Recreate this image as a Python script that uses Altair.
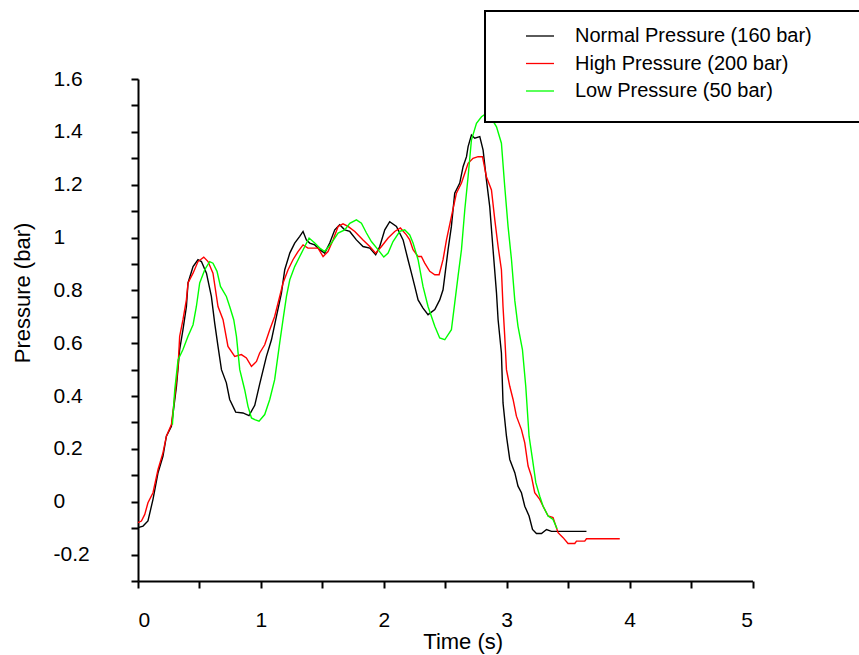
import altair as alt
import pandas as pd

series_names = ["Normal Pressure (160 bar)", "High Pressure (200 bar)", "Low Pressure (50 bar)"]
series_colors = ["#000000", "#ff0000", "#00ff00"]

normal_t = [0.000, 0.041, 0.081, 0.122, 0.163, 0.203, 0.231, 0.272, 0.313, 0.339,
            0.366, 0.394, 0.407, 0.448, 0.488, 0.516, 0.557, 0.597, 0.624, 0.651,
            0.679, 0.719, 0.746, 0.795, 0.854, 0.903, 0.950, 0.990, 1.045, 1.086,
            1.126, 1.167, 1.194, 1.235, 1.275, 1.316, 1.343, 1.370, 1.397, 1.438,
            1.479, 1.519, 1.560, 1.601, 1.641, 1.682, 1.723, 1.777, 1.831, 1.886,
            1.934, 1.967, 2.008, 2.048, 2.103, 2.157, 2.197, 2.225, 2.252, 2.279,
            2.319, 2.360, 2.415, 2.455, 2.482, 2.496, 2.523, 2.550, 2.577, 2.618,
            2.645, 2.673, 2.686, 2.713, 2.740, 2.781, 2.808, 2.835, 2.862, 2.889,
            2.917, 2.930, 2.957, 2.970, 2.998, 3.025, 3.066, 3.092, 3.120, 3.147,
            3.182, 3.210, 3.242, 3.283, 3.324, 3.364, 3.649]
normal_p = [-0.098, -0.092, -0.073, 0.009, 0.110, 0.172, 0.248, 0.286, 0.437, 0.576,
            0.651, 0.739, 0.828, 0.890, 0.916, 0.909, 0.865, 0.777, 0.676, 0.588,
            0.500, 0.450, 0.387, 0.339, 0.336, 0.326, 0.365, 0.445, 0.550, 0.613,
            0.701, 0.790, 0.878, 0.941, 0.979, 1.004, 1.023, 0.991, 0.979, 0.972,
            0.954, 0.941, 0.979, 1.029, 1.048, 1.029, 1.023, 0.991, 0.966, 0.960,
            0.935, 0.966, 1.029, 1.060, 1.042, 0.991, 0.916, 0.865, 0.815, 0.764,
            0.733, 0.708, 0.727, 0.764, 0.802, 0.853, 0.954, 1.042, 1.168, 1.206,
            1.268, 1.306, 1.344, 1.388, 1.376, 1.382, 1.331, 1.218, 1.117, 0.954,
            0.790, 0.689, 0.563, 0.374, 0.248, 0.160, 0.110, 0.059, 0.034, -0.017,
            -0.054, -0.105, -0.120, -0.120, -0.105, -0.112, -0.112]

high_t = [0.000, 0.028, 0.055, 0.081, 0.122, 0.163, 0.203, 0.231, 0.272, 0.299,
          0.326, 0.339, 0.366, 0.394, 0.407, 0.448, 0.488, 0.535, 0.570, 0.610,
          0.651, 0.692, 0.732, 0.787, 0.841, 0.882, 0.923, 0.964, 0.990, 1.031,
          1.072, 1.112, 1.153, 1.180, 1.221, 1.261, 1.302, 1.343, 1.383, 1.465,
          1.506, 1.546, 1.587, 1.628, 1.668, 1.709, 1.764, 1.831, 1.886, 1.934,
          1.981, 2.035, 2.089, 2.135, 2.184, 2.211, 2.238, 2.279, 2.306, 2.333,
          2.374, 2.415, 2.450, 2.482, 2.510, 2.550, 2.591, 2.632, 2.659, 2.686,
          2.726, 2.767, 2.803, 2.835, 2.876, 2.903, 2.930, 2.957, 2.970, 2.984,
          2.998, 3.025, 3.052, 3.079, 3.120, 3.147, 3.174, 3.201, 3.228, 3.269,
          3.296, 3.337, 3.377, 3.418, 3.459, 3.499, 3.554, 3.568, 3.635, 3.649,
          3.920]
high_p = [-0.079, -0.073, -0.048, -0.004, 0.034, 0.122, 0.185, 0.248, 0.292, 0.399,
          0.512, 0.626, 0.689, 0.765, 0.828, 0.865, 0.909, 0.926, 0.909, 0.865,
          0.739, 0.689, 0.588, 0.550, 0.557, 0.544, 0.512, 0.531, 0.563, 0.594,
          0.651, 0.701, 0.777, 0.828, 0.878, 0.916, 0.947, 0.972, 0.960, 0.960,
          0.928, 0.947, 0.991, 1.042, 1.052, 1.042, 1.023, 0.991, 0.966, 0.941,
          0.966, 0.998, 1.023, 1.036, 1.010, 0.991, 0.954, 0.928, 0.928, 0.903,
          0.872, 0.859, 0.859, 0.916, 0.991, 1.079, 1.168, 1.206, 1.243, 1.281,
          1.300, 1.306, 1.306, 1.230, 1.180, 1.068, 0.966, 0.878, 0.739, 0.626,
          0.500, 0.437, 0.387, 0.324, 0.273, 0.223, 0.135, 0.097, 0.034, 0.009,
          -0.017, -0.054, -0.060, -0.117, -0.136, -0.158, -0.158, -0.149, -0.149, -0.140,
          -0.140]

low_t = [0.280, 0.299, 0.326, 0.366, 0.407, 0.448, 0.475, 0.502, 0.543, 0.583,
         0.610, 0.643, 0.671, 0.719, 0.746, 0.779, 0.801, 0.828, 0.868, 0.895,
         0.923, 0.950, 0.985, 1.031, 1.072, 1.112, 1.153, 1.180, 1.208, 1.235,
         1.275, 1.316, 1.357, 1.392, 1.438, 1.479, 1.519, 1.574, 1.628, 1.682,
         1.723, 1.777, 1.818, 1.859, 1.899, 1.953, 2.000, 2.035, 2.075, 2.130,
         2.170, 2.211, 2.238, 2.279, 2.319, 2.360, 2.415, 2.455, 2.496, 2.550,
         2.577, 2.604, 2.632, 2.659, 2.686, 2.713, 2.754, 2.795, 2.835, 2.870,
         2.917, 2.957, 2.984, 3.011, 3.039, 3.066, 3.092, 3.128, 3.155, 3.182,
         3.210, 3.237, 3.269, 3.296, 3.337, 3.377, 3.410]
low_p = [0.292, 0.424, 0.538, 0.576, 0.626, 0.670, 0.739, 0.828, 0.878, 0.909,
         0.903, 0.872, 0.815, 0.777, 0.739, 0.689, 0.626, 0.500, 0.424, 0.361,
         0.317, 0.311, 0.305, 0.330, 0.387, 0.462, 0.601, 0.689, 0.777, 0.840,
         0.890, 0.928, 0.966, 0.998, 0.979, 0.960, 0.947, 0.979, 1.017, 1.029,
         1.054, 1.067, 1.054, 1.017, 0.985, 0.954, 0.926, 0.941, 0.985, 1.023,
         1.029, 1.010, 0.979, 0.916, 0.815, 0.739, 0.664, 0.620, 0.613, 0.651,
         0.752, 0.853, 0.954, 1.105, 1.231, 1.369, 1.432, 1.457, 1.470, 1.456,
         1.419, 1.357, 1.193, 1.042, 0.916, 0.761, 0.664, 0.576, 0.437, 0.248,
         0.160, 0.072, 0.021, -0.017, -0.054, -0.067, -0.102]

y_ticks = [-0.3, -0.2, -0.1, 0, 0.1, 0.2, 0.3, 0.4, 0.5, 0.6, 0.7, 0.8, 0.9, 1,
           1.1, 1.2, 1.3, 1.4, 1.5, 1.6]
x_ticks = [0, 0.5, 1, 1.5, 2, 2.5, 3, 3.5, 4, 4.5, 5]

rows = []
for name, ts, ps in zip(series_names, [normal_t, high_t, low_t], [normal_p, high_p, low_p]):
    assert len(ts) == len(ps), name
    for i, (t, p) in enumerate(zip(ts, ps)):
        rows.append({"series": name, "t": t, "p": p, "i": i})
df = pd.DataFrame(rows)

FONT = "Liberation Sans"
# invisible spacer title that only widens the legend frame past the right edge
SPACER = "M" * 56

chart = alt.Chart(df).mark_line(strokeWidth=1.4).encode(
    x=alt.X("t:Q",
            scale=alt.Scale(domain=[0, 5], nice=False, zero=False),
            axis=alt.Axis(values=x_ticks,
                          labelExpr="datum.value % 1 == 0 ? '' + datum.value : ''",
                          tickSize=7, tickWidth=2, tickColor="black",
                          domainWidth=2, domainColor="black",
                          labelPadding=21, labelFontSize=21, labelFont=FONT,
                          labelColor="black", labelOverlap=False,
                          title="Time (s)", titleFont=FONT, titleFontSize=22,
                          titleFontWeight="normal", titleColor="black",
                          titleX=324.7, titleY=60, titleAlign="center",
                          titleBaseline="middle", grid=False)),
    y=alt.Y("p:Q",
            scale=alt.Scale(domain=[-0.3, 1.6], nice=False, zero=False),
            axis=alt.Axis(values=y_ticks,
                          labelExpr="(round(abs(datum.value) * 10) % 2 == 0) ? '' + datum.value : ''",
                          tickSize=7, tickWidth=2, tickColor="black",
                          domainWidth=2, domainColor="black",
                          labelAlign="left", labelBaseline="middle",
                          labelPadding=78, labelFontSize=21, labelFont=FONT,
                          labelColor="black", labelOverlap=False,
                          title="Pressure (bar)", titleFont=FONT, titleFontSize=22,
                          titleFontWeight="normal", titleColor="black",
                          titleX=-115.5, titleY=213.5, titleAngle=270,
                          titleAlign="center", titleBaseline="middle", grid=False)),
    color=alt.Color("series:N",
                    scale=alt.Scale(domain=series_names, range=series_colors),
                    legend=alt.Legend(title=SPACER, titleOrient="bottom",
                                      titleFontSize=8, titlePadding=3,
                                      titleOpacity=0, titleLimit=2000,
                                      titleAnchor="start",
                                      orient="none",
                                      legendX=347, legendY=-68,
                                      symbolType="stroke", symbolSize=784,
                                      symbolStrokeWidth=1.3, symbolOffset=30,
                                      labelOffset=20, labelFontSize=20,
                                      labelFont=FONT, labelColor="black",
                                      labelLimit=700, rowPadding=2.5, padding=10,
                                      fillColor="white", strokeColor="black",
                                      zindex=1)),
    order=alt.Order("i:Q"),
).properties(
    width=614.5,
    height=502,
    autosize=alt.AutoSizeParams(type="none"),
    padding={"left": 138, "top": 79, "right": 106, "bottom": 74},
).configure_view(stroke=None).configure_legend(strokeWidth=2)

chart.save("out.html", embed_options={"renderer": "svg", "actions": False})
